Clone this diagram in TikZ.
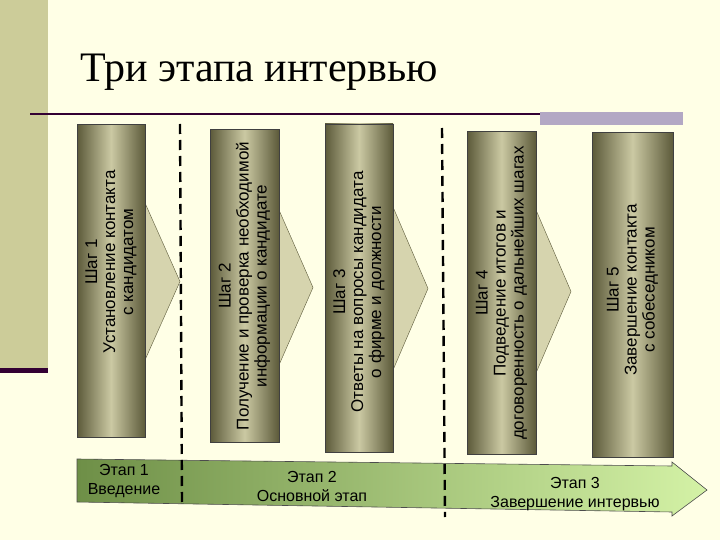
\documentclass[tikz,border=0pt]{standalone}
\usepackage{fontspec}
\setmainfont{Liberation Serif}
\setsansfont{Liberation Sans}
\newfontfamily\titlefont{Liberation Serif}
\begin{document}
\begin{tikzpicture}[x=1pt,y=-1pt,
  stepbox/.style={draw=black!75,line width=0.7pt,left color=boxe,right color=boxe,middle color=boxm},
  chev/.style={fill=chevf,draw=boxe,line width=0.4pt},
  steptext/.style={rotate=90,align=center,font=\sffamily\fontsize{17}{18}\selectfont,text=black},
  sep/.style={line width=2.4pt,dash pattern=on 10pt off 6pt},
  stagetext/.style={align=center,font=\sffamily\fontsize{16}{19}\selectfont}]
\definecolor{bg}{HTML}{FFFFE6}
\definecolor{side}{HTML}{CCCC99}
\definecolor{lav}{HTML}{B3A8C4}
\definecolor{deep}{HTML}{330033}
\definecolor{boxe}{HTML}{5C5A3A}
\definecolor{boxm}{HTML}{CBC9A3}
\definecolor{chevf}{HTML}{D6D4AE}
\definecolor{barl}{HTML}{6E8F47}
\definecolor{barr}{HTML}{D4F2A6}
\useasboundingbox (0,0) rectangle (720,540);
\fill[bg] (0,0) rectangle (720,540);
\fill[side] (0,0) rectangle (48,370);
\fill[deep] (0,368) rectangle (48,373);
\node[anchor=base west,font=\titlefont\fontsize{42}{46}\selectfont,inner sep=0] (title) at (80,82) {Три этапа интервью};
\draw[line width=1.5pt,deep] (30,114) -- (540,114);
\fill[lav] (540,112) rectangle (683,125);
% chevrons
\foreach \x/\a/\b/\t in {145/203/360/180, 279/210/365/313, 393/207/370/428, 536/210/373/571}{
  \filldraw[chev] (\x-5,\a) -- (\x,\a) -- (\t,{(\a+\b)/2}) -- (\x,\b) -- (\x-5,\b) -- cycle;
}
% boxes
\node[stepbox,minimum width=68,minimum height=313,inner sep=0] (b1) at (111,281) {};
\node[stepbox,minimum width=69,minimum height=313,inner sep=0] (b2) at (244.5,286) {};
\node[stepbox,minimum width=68,minimum height=328,inner sep=0] (b3) at (359,288) {};
\node[stepbox,minimum width=69,minimum height=323,inner sep=0] (b4) at (501.5,293) {};
\node[stepbox,minimum width=81,minimum height=325,inner sep=0] (b5) at (632.5,295) {};
\node[steptext] (t1) at (111,262) {Шаг 1\\Установление контакта\\с кандидатом};
\node[steptext] (t2) at (244.5,286) {Шаг 2\\Получение и проверка необходимой\\информации о кандидате};
\node[steptext] (t3) at (359,292) {Шаг 3\\Ответы на вопросы кандидата\\о фирме и должности};
\node[steptext] (t4) at (501.5,293) {Шаг 4\\Подведение итогов и\\договоренность о дальнейших шагах};
\node[steptext] (t5) at (632.5,290) {Шаг 5\\Завершение контакта\\с собеседником};
% stage bar
\shade[left color=barl,right color=barr,draw=black!70,line width=0.6pt]
  (77,459) -- (672,466) -- (672,462) -- (707,490) -- (672,516) -- (672,512) -- (77,502) -- cycle;
\coordinate (s1a) at (180,124); \coordinate (s1b) at (182,503);
\coordinate (s2a) at (442,128); \coordinate (s2b) at (445,517);
\draw[sep] (s1a) -- (s1b);
\draw[sep] (s2a) -- (s2b);
\node[stagetext] (e1) at (124,481) {Этап 1\\Введение};
\node[stagetext] (e2) at (312,486) {Этап 2\\Основной этап};
\node[stagetext] (e3) at (575,494) {Этап 3\\Завершение интервью};
\end{tikzpicture}
\end{document}
